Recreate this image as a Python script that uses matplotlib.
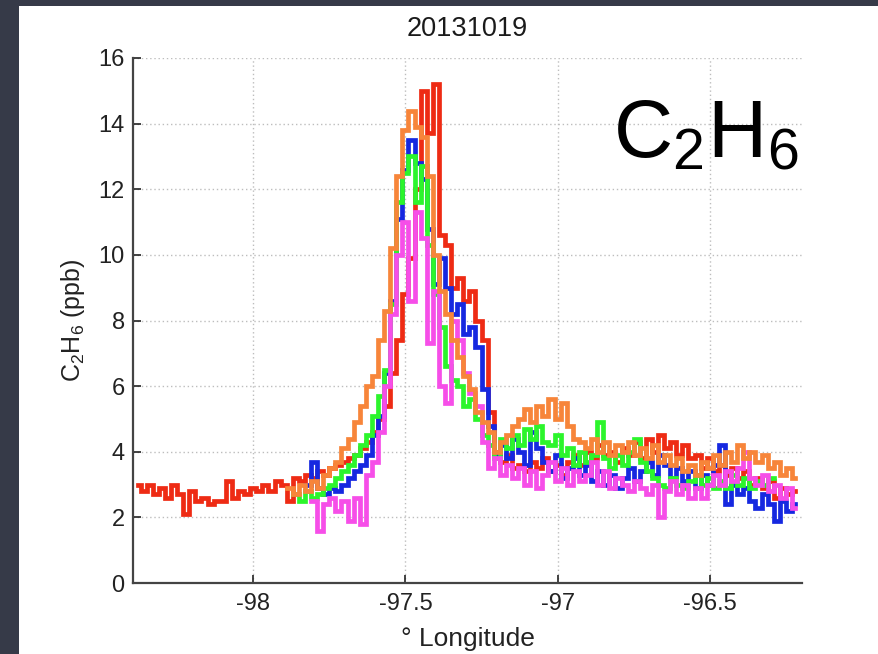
import numpy as np
import matplotlib
matplotlib.use("Agg")
import matplotlib.pyplot as plt
from matplotlib.patches import Rectangle

plt.rcParams['font.family'] = ['Liberation Sans', 'DejaVu Sans']
plt.rcParams['axes.unicode_minus'] = False
plt.rcParams['mathtext.fontset'] = 'custom'
plt.rcParams['mathtext.rm'] = 'Liberation Sans'

# flight longitude grid (deg), 0.02 deg sampling
lon = np.round(np.arange(-98.38, -96.21, 0.02), 2)
nan = np.nan

# C2H6 (ppb) per flight leg
red = [3.0, 2.8, 3.0, 2.7, 2.9, 2.6, 3.0, 2.7, 2.1, 2.8,
       2.5, 2.6, 2.4, 2.5, 2.5, 3.1, 2.6, 2.8, 2.7, 2.9,
       2.8, 3.0, 2.8, 3.1, 3.0, 2.5, 3.2, 3.1, 3.3, 3.2,
       3.4, 3.3, 3.5, 3.6, 3.7, 3.8, 3.9, 4.1, 4.3, 4.6,
       5.0, 5.4, 6.4, 7.4, 8.8, 9.9, 12.0, 15.0, 13.7, 15.2,
       10.6, 10.3, 9.0, 9.3, 8.6, 8.9, 8.0, 7.4, 5.2, 4.0,
       3.7, 3.9, 3.5, 3.6, 3.4, 3.7, 3.5, 3.8, 3.4, 3.6,
       3.3, 3.7, 3.9, 3.6, 4.0, 3.8, 4.2, 3.9, 4.0, 3.7,
       4.1, 3.9, 4.3, 3.8, 4.4, 4.0, 4.5, 4.1, 4.3, 3.9,
       4.2, 3.8, 3.9, 3.5, 3.8, 3.4, 3.6, 3.3, 3.5, 3.2,
       3.4, 3.0, 3.2, 2.9, 3.1, 2.6, 2.9, 2.7, 2.8]

orange = [nan] * 25 + [
       2.9, 2.7, 3.0, 2.8, 3.1,
       2.9, 3.3, 3.5, 3.7, 4.1, 4.4, 4.9, 5.4, 6.0, 6.3,
       7.4, 8.3, 10.2, 12.4, 13.8, 14.4, 13.9, 13.6, 12.4, 10.0,
       8.9, 8.2, 7.4, 6.9, 6.3, 5.9, 5.2, 4.9, 4.6, 4.0,
       4.3, 4.5, 4.8, 5.0, 5.3, 4.9, 5.4, 5.1, 5.6, 5.0,
       5.5, 4.8, 4.4, 4.3, 4.1, 4.4, 4.0, 4.3, 3.9, 4.2,
       4.0, 4.3, 3.9, 4.1, 3.8, 4.2, 3.7, 3.9, 3.6, 3.8,
       3.4, 3.6, 3.3, 3.7, 3.5, 3.9, 3.6, 4.0, 3.7, 4.2,
       3.8, 4.0, 3.7, 3.9, 3.5, 3.7, 3.3, 3.5, 3.2]

green = [nan] * 26 + [
       2.7, 2.5, 2.8, 2.6,
       2.7, 2.9, 3.0, 3.2, 3.4, 3.6, 3.9, 4.2, 4.5, 5.1,
       5.7, 6.5, 8.5, 11.6, 12.5, 13.0, 11.6, 12.7, 10.3, 8.8,
       7.8, 6.6, 6.2, 6.0, 5.4, 5.6, 5.0, 4.5, 4.2, 3.8,
       4.4, 4.1, 4.5, 4.2, 4.7, 4.4, 4.8, 4.3, 4.2, 4.5,
       3.9, 4.1, 3.6, 4.0, 3.7, 3.9, 4.9, 3.8, 3.5, 3.9,
       3.6, 4.0, 4.4, 3.7, 3.4, 3.2, 3.0, 2.9, 3.2, 3.0,
       2.9, 3.1, 3.3, 3.0, 3.2, 2.9, 3.1, 2.9, 3.3, 3.0,
       3.2, 2.9, 3.1, 3.0, 3.2] + [nan] * 4

blue = [nan] * 28 + [
       3.0, 3.7,
       2.9, 2.7, 2.9, 2.8, 3.0, 3.2, 3.4, 3.6, 3.9, 4.5,
       5.1, 6.4, 8.6, 11.1, 12.6, 13.5, 12.8, 12.3, 10.8, 9.1,
       9.9, 9.0, 8.2, 8.5, 7.6, 7.8, 7.2, 5.9, 4.8, 3.9,
       4.2, 3.8, 4.4, 4.0, 3.6, 4.6, 4.1, 3.7, 3.4, 3.9,
       3.2, 3.5, 3.8, 3.3, 3.6, 3.1, 3.4, 3.0, 3.3, 2.9,
       3.2, 3.5, 3.1, 3.4, 3.7, 3.3, 3.9, 3.6, 3.2, 3.5,
       3.1, 3.4, 2.9, 3.3, 3.0, 3.6, 4.2, 2.4, 3.0, 2.7,
       2.9, 2.5, 2.3, 2.7, 2.4, 1.9, 2.5, 2.2, 2.4]

magenta = [nan] * 29 + [
       2.5,
       1.6, 2.4, 2.6, 2.2, 2.5, 1.9, 2.6, 1.8, 3.3, 3.7,
       4.6, 6.0, 8.2, 10.0, 11.0, 8.6, 11.3, 10.5, 7.3, 8.9,
       6.0, 5.5, 8.0, 7.4, 6.4, 5.8, 5.4, 4.3, 3.5, 3.8,
       3.3, 3.6, 3.2, 3.5, 3.0, 3.4, 2.9, 3.3, 3.7, 3.1,
       3.5, 3.0, 3.4, 3.1, 3.3, 3.7, 3.0, 3.4, 2.9, 3.2,
       3.0, 2.8, 3.1, 2.9, 2.7, 3.0, 2.0, 2.8, 3.1, 2.7,
       3.0, 2.6, 2.9, 2.6, 3.0, 3.3, 3.0, 3.4, 3.1, 3.5,
       4.0, 3.2, 3.0, 3.3, 2.8, 3.0, 2.6, 2.9, 2.3]

series = [
    (red, '#ee2b14'),
    (blue, '#1628e0'),
    (green, '#2cf52c'),
    (magenta, '#f64ee8'),
    (orange, '#f7853a'),
]

fig = plt.figure(figsize=(8.79, 6.54), dpi=100, facecolor='white')
# dark slide frame on the left and top
frame = '#363a48'
fig.patches.append(Rectangle((0, 0), 19 / 879, 1, transform=fig.transFigure,
                             facecolor=frame, edgecolor='none'))
fig.patches.append(Rectangle((0, 1 - 6 / 654), 1, 6 / 654,
                             transform=fig.transFigure, facecolor=frame,
                             edgecolor='none'))

ax = fig.add_axes([133 / 879, 1 - 583 / 654, 669 / 879, 525 / 654])
ax.set_facecolor('white')

for vals, col in series:
    ax.plot(lon, vals, color=col, lw=3.4, drawstyle='steps-mid',
            solid_joinstyle='miter')

ax.set_xlim(-98.395, -96.197)
ax.set_ylim(0, 16)
ax.set_xticks([-98, -97.5, -97, -96.5])
ax.set_xticklabels(['-98', '-97.5', '-97', '-96.5'])
ax.set_yticks(range(0, 17, 2))
ax.tick_params(direction='in', length=6, width=1.2, labelsize=17,
               colors='#222222', pad=7)
ax.tick_params(axis='y', pad=6)

ax.grid(True, linestyle=(0, (1, 2)), color='#bdbdbd', lw=1.0)
ax.set_axisbelow(True)
for s in ['top', 'right']:
    ax.spines[s].set_visible(False)
for s in ['left', 'bottom']:
    ax.spines[s].set_color('#444444')
    ax.spines[s].set_linewidth(1.6)

ax.set_title('20131019', fontsize=19.5, color='#1a1a1a', pad=16)
ax.set_xlabel('\u00b0 Longitude', fontsize=19, color='#222222', labelpad=9)
ax.set_ylabel(r'$\mathregular{C_2H_6}$ (ppb)', fontsize=18,
              color='#222222', labelpad=8)

ax.text(0.994, 0.8095, r'$\mathregular{C_2H_6}$', transform=ax.transAxes,
        fontsize=59, ha='right', va='baseline', color='black')

fig.savefig('out.png', dpi=100)
